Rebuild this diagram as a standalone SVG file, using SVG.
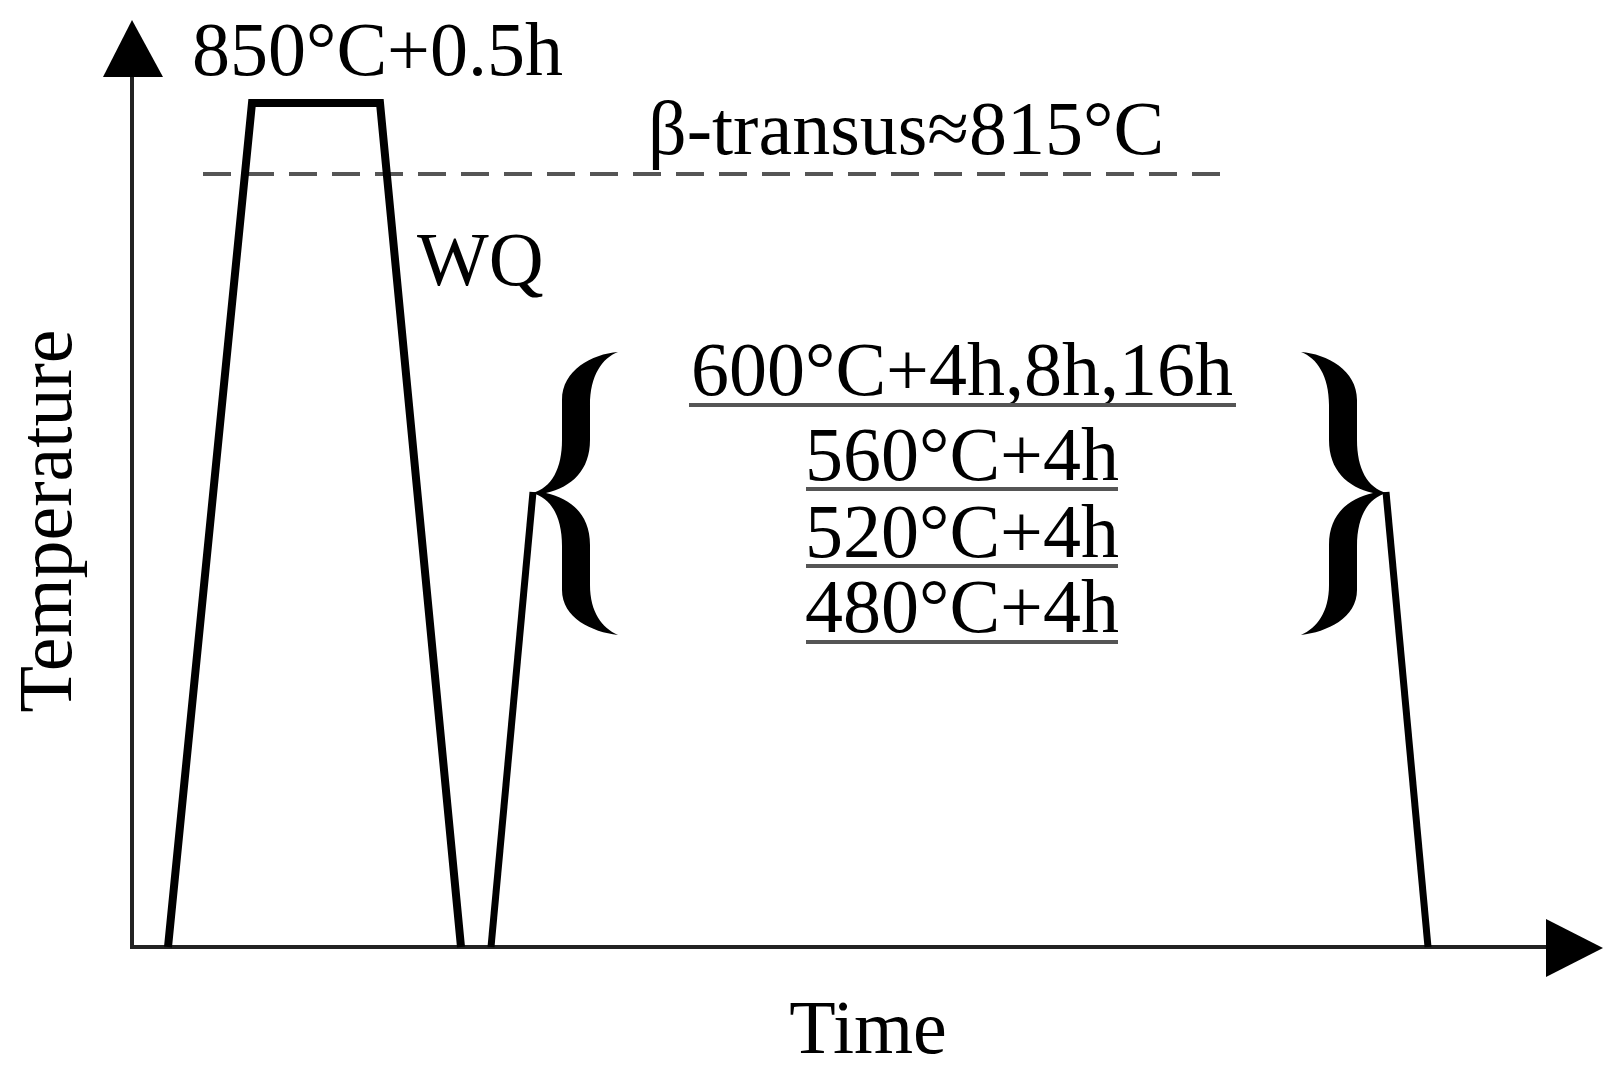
<svg xmlns="http://www.w3.org/2000/svg" xmlns:xlink="http://www.w3.org/1999/xlink" width="1619" height="1070" viewBox="0 0 1619 1070">
<style>
text{font-family:"Liberation Serif","Times New Roman",serif;font-size:76px;fill:#000}
.axis{stroke:#222;stroke-width:4;fill:none}
.prof{stroke:#000;stroke-width:8;fill:none;stroke-linejoin:miter}
.ul{stroke:#555;stroke-width:4}
.dash{stroke:#555;stroke-width:4;stroke-dasharray:28 15}
</style>
<defs>
<path id="brace" d="M618,352 C592,354 562,370 562,400 L562,440 C562,468 552,488 532,493 C552,498 562,518 562,546 L562,590 C562,618 592,632 618,635 C602,628 590,612 590,585 L590,545 C590,515 572,499 546,493 C572,487 590,470 590,440 L590,405 C590,376 602,358 618,352 Z" fill="#000"/>
</defs>
<rect width="1619" height="1070" fill="#fff"/>
<g id="axes">
<line class="axis" x1="132" y1="947" x2="132" y2="70"/>
<polygon points="132,20 103,77 163,77" fill="#000"/>
<line class="axis" x1="130" y1="947" x2="1555" y2="947"/>
<polygon points="1603,948 1546,919 1546,977" fill="#000"/>
</g>
<g id="transus">
<line class="dash" x1="203" y1="174" x2="1223" y2="174"/>
<text x="648" y="154">β-transus≈815°C</text>
</g>
<g id="connectors">
<polyline class="prof" points="168,947 252,103 380,103 461,947"/>
<polyline class="prof" style="stroke-width:7" points="491,947 533,492"/>
<polyline class="prof" style="stroke-width:7" points="1386,492 1428,947"/>
</g>
<g id="solution">
<text x="192" y="75">850°C+0.5h</text>
</g>
<g id="wq">
<text x="417" y="285">WQ</text>
</g>
<g id="aging">
<use xlink:href="#brace"/>
<use xlink:href="#brace" transform="translate(1919,0) scale(-1,1)"/>
<text x="962" y="395" text-anchor="middle">600°C+4h,8h,16h</text>
<line class="ul" x1="689" y1="405" x2="1236" y2="405"/>
<text x="962" y="480" text-anchor="middle">560°C+4h</text>
<line class="ul" x1="806" y1="489" x2="1118" y2="489"/>
<text x="962" y="557" text-anchor="middle">520°C+4h</text>
<line class="ul" x1="806" y1="566" x2="1118" y2="566"/>
<text x="962" y="632" text-anchor="middle">480°C+4h</text>
<line class="ul" x1="806" y1="642" x2="1118" y2="642"/>
</g>
<g id="labels">
<text x="868" y="1053" text-anchor="middle">Time</text>
<text transform="translate(71,521) rotate(-90)" text-anchor="middle">Temperature</text>
</g>
</svg>
